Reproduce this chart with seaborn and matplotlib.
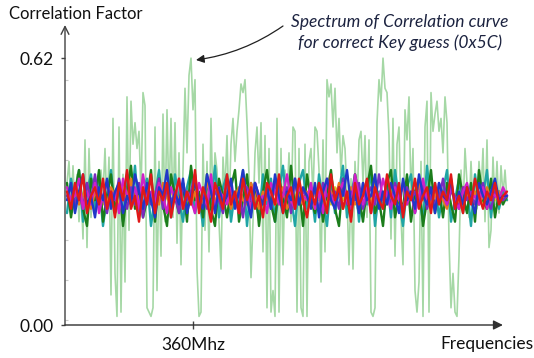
# %%
import numpy as np
import pandas as pd
import matplotlib
matplotlib.use("Agg")
import matplotlib.pyplot as plt
import seaborn as sns

#
# Data (correlation x 100, one value per frequency bin)
#
key_curve = [
    33, 38, 27, 37, 26, 35, 24, 32, 20, 43,
    18, 41, 25, 34, 28, 33, 27, 36, 30, 41,
    26, 39, 7, 48, 12, 2, 46, 3, 35, 10,
    53, 22, 52, 42, 47, 41, 45, 30, 54, 51,
    4, 3, 2, 4, 46, 8, 38, 16, 49, 24,
    50, 28, 48, 25, 47, 19, 40, 14, 36, 55,
    40, 58, 62, 50, 57, 13, 2, 3, 42, 22,
    38, 17, 48, 27, 40, 36, 24, 13, 39, 31,
    44, 26, 42, 48, 38, 45, 50, 56, 54, 57,
    47, 35, 11, 24, 40, 46, 33, 47, 17, 44,
    4, 41, 3, 8, 2, 48, 3, 41, 14, 36,
    28, 40, 24, 46, 45, 3, 41, 4, 2, 42,
    2, 38, 41, 30, 46, 45, 36, 10, 43, 17,
    57, 53, 56, 46, 55, 40, 48, 35, 44, 41,
    30, 14, 34, 13, 38, 27, 43, 45, 33, 44,
    25, 43, 3, 2, 4, 47, 57, 52, 62, 55,
    54, 44, 20, 48, 16, 42, 46, 25, 14, 50,
    43, 53, 30, 41, 8, 3, 10, 38, 2, 46,
    52, 3, 54, 45, 49, 52, 45, 48, 40, 53,
    47, 20, 4, 12, 3, 2, 16, 36, 26, 41,
    33, 25, 38, 28, 35, 27, 38, 30, 41, 24,
    43, 18, 22, 39, 28, 38, 26, 37, 30, 36,
    29,
]

# wrong key guesses, sampled every second bin
band_yellow = [
    30, 29, 31, 30, 28, 32, 29, 30, 31, 28, 29, 31, 30, 28, 32, 30, 29, 31, 28, 30,
    31, 29, 30, 32, 28, 30, 31, 29, 30, 28, 30, 31, 29, 28, 31, 30, 32, 29, 30, 31,
    29, 30, 28, 31, 30, 29, 32, 30, 28, 31, 30, 29, 31, 28, 30, 32, 29, 30, 31, 29,
    28, 31, 30, 29, 31, 30, 28, 32, 30, 29, 31, 29, 30, 28, 31, 30, 29, 31, 30, 28,
    30, 31, 29, 30, 32, 28, 30, 29, 31, 30, 29, 30, 31, 28, 30, 29, 31, 30, 28, 31,
    30, 29, 31, 30, 28, 30, 31, 29, 30, 30, 29,
]
band_orange = [
    31, 29, 32, 28, 30, 33, 27, 31, 29, 30, 28, 32, 30, 27, 31, 29, 34, 28, 30, 26,
    32, 29, 31, 28, 33, 30, 27, 31, 29, 32, 30, 28, 31, 27, 29, 33, 30, 28, 32, 29,
    31, 27, 30, 32, 29, 28, 33, 30, 27, 31, 29, 31, 28, 30, 32, 27, 29, 33, 30, 28,
    31, 29, 27, 32, 30, 28, 31, 29, 33, 27, 30, 32, 28, 29, 31, 30, 27, 33, 29, 31,
    28, 30, 32, 29, 27, 31, 30, 28, 33, 29, 31, 28, 30, 32, 29, 27, 31, 30, 28, 32,
    30, 29, 31, 28, 30, 32, 29, 30, 31, 29, 30,
]
band_teal = [
    26, 34, 29, 36, 24, 31, 35, 27, 33, 23, 30, 36, 26, 32, 24, 35, 28, 37, 25, 31,
    34, 23, 30, 36, 27, 33, 25, 35, 29, 24, 32, 36, 26, 30, 23, 34, 28, 37, 25, 32,
    35, 24, 31, 27, 36, 23, 33, 29, 25, 35, 28, 34, 24, 31, 37, 26, 30, 23, 33, 36,
    27, 32, 24, 35, 29, 23, 34, 26, 31, 37, 25, 30, 35, 24, 33, 28, 36, 23, 31, 27,
    34, 25, 36, 29, 23, 32, 35, 26, 30, 24, 37, 28, 33, 25, 31, 36, 24, 29, 34, 26,
    32, 23, 35, 28, 30, 36, 25, 33, 27, 31, 29,
]
band_green = [
    33, 25, 31, 36, 27, 23, 34, 29, 36, 24, 30, 35, 26, 33, 23, 31, 37, 27, 32, 25,
    29, 36, 24, 34, 28, 23, 35, 30, 26, 33, 24, 37, 29, 31, 25, 35, 27, 23, 34, 30,
    25, 32, 36, 24, 29, 35, 26, 33, 23, 31, 36, 28, 24, 34, 30, 25, 37, 27, 32, 23,
    35, 29, 26, 33, 24, 31, 36, 27, 23, 34, 29, 25, 35, 30, 24, 32, 37, 26, 29, 23,
    33, 36, 25, 30, 27, 35, 24, 31, 34, 23, 29, 36, 26, 32, 25, 33, 28, 24, 35, 30,
    26, 33, 24, 36, 29, 27, 34, 25, 31, 28, 30,
]
band_purple = [
    30, 32, 28, 31, 27, 33, 29, 35, 28, 30, 26, 31, 29, 34, 30, 27, 32, 28, 33, 25,
    31, 28, 30, 34, 27, 32, 29, 30, 26, 33, 29, 31, 35, 28, 30, 27, 33, 31, 29, 26,
    34, 30, 28, 31, 25, 32, 29, 33, 30, 28, 31, 27, 33, 29, 30, 32, 26, 34, 28, 31,
    30, 28, 32, 26, 33, 30, 29, 31, 27, 34, 28, 31, 29, 33, 27, 30, 32, 28, 35, 29,
    31, 28, 33, 30, 26, 32, 29, 31, 28, 33, 27, 30, 32, 29, 34, 28, 31, 30, 27, 32,
    29, 31, 28, 30, 33, 29, 27, 31, 30, 29, 30,
]
band_magenta = [
    32, 29, 30, 34, 27, 31, 28, 33, 26, 30, 33, 28, 31, 26, 34, 30, 29, 32, 27, 35,
    29, 31, 28, 33, 30, 26, 32, 29, 34, 27, 31, 29, 26, 33, 30, 28, 35, 27, 31, 30,
    28, 32, 29, 26, 34, 31, 27, 33, 29, 30, 26, 33, 31, 28, 30, 35, 29, 27, 32, 30,
    29, 33, 27, 31, 26, 34, 30, 28, 31, 33, 29, 27, 35, 30, 28, 32, 26, 31, 29, 34,
    30, 27, 32, 29, 33, 28, 31, 26, 30, 34, 29, 31, 27, 33, 30, 28, 32, 29, 27, 31,
    33, 29, 30, 28, 32, 27, 31, 30, 29, 32, 30,
]
band_blue = [
    29, 33, 26, 31, 35, 28, 30, 25, 32, 29, 34, 27, 31, 33, 26, 30, 28, 35, 31, 27,
    33, 29, 25, 32, 30, 36, 27, 31, 28, 34, 26, 30, 33, 29, 27, 35, 31, 26, 32, 28,
    30, 34, 27, 31, 36, 29, 25, 33, 30, 28, 32, 27, 35, 30, 26, 31, 29, 34, 28, 32,
    30, 27, 33, 25, 31, 34, 29, 27, 32, 30, 36, 28, 31, 26, 33, 29, 30, 35, 27, 31,
    28, 33, 30, 26, 34, 29, 31, 27, 35, 30, 28, 32, 26, 33, 30, 29, 34, 27, 31, 28,
    32, 29, 26, 33, 30, 28, 31, 34, 29, 30, 30,
]
band_red = [
    31, 27, 33, 29, 35, 26, 30, 32, 28, 34, 27, 31, 25, 33, 29, 36, 27, 30, 24, 32,
    28, 35, 26, 31, 29, 33, 25, 30, 34, 27, 31, 28, 36, 26, 32, 29, 24, 33, 30, 27,
    35, 28, 31, 26, 34, 29, 32, 27, 30, 25, 33, 31, 28, 35, 26, 30, 32, 27, 34, 29,
    25, 31, 28, 33, 30, 26, 35, 29, 32, 27, 31, 24, 33, 28, 30, 34, 26, 32, 29, 27,
    35, 30, 28, 33, 25, 31, 29, 34, 27, 30, 32, 26, 33, 28, 31, 29, 35, 27, 30, 26,
    32, 28, 34, 30, 27, 31, 29, 33, 28, 30, 31,
]

band_series = {
    "yellow": band_yellow, "teal": band_teal, "green": band_green,
    "orange": band_orange, "purple": band_purple, "magenta": band_magenta,
    "blue": band_blue, "red": band_red,
}
band_colors = ["#d8c82a", "#1fa5a5", "#1b7d1b", "#e8781e", "#7a2cc0",
               "#d020c8", "#2038c8", "#e01818"]

y_ticks = [0.0, 0.62]
y_tick_labels = ["0.00", "0.62"]
x_tick = 63
x_tick_label = "360Mhz"

key_df = pd.DataFrame({"freq": np.arange(len(key_curve)),
                       "corr": np.array(key_curve) / 100})
band_df = pd.concat(
    [pd.DataFrame({"freq": 2 * np.arange(len(v)), "corr": np.array(v) / 100, "key": k})
     for k, v in band_series.items()],
    ignore_index=True)

#
# Plot
#
sns.set_style("white")
plt.rcParams["font.family"] = ["Lato", "DejaVu Sans"]

fig = plt.figure(figsize=(5.34, 3.58), dpi=100)
ax = fig.add_axes([65 / 534, 33 / 358, 445 / 534, 300 / 358])

sns.lineplot(data=key_df, x="freq", y="corr", color="#5cb85c", alpha=0.55,
             linewidth=1.2, estimator=None, ax=ax)
sns.lineplot(data=band_df, x="freq", y="corr", hue="key", palette=band_colors,
             linewidth=1.7, estimator=None, legend=False, ax=ax)

ax.set_xlim(-1, 221.5)
ax.set_ylim(0, 0.697)
ax.set_xlabel("")
ax.set_ylabel("")
sns.despine(ax=ax, left=True, bottom=True)

ax.set_yticks(y_ticks, y_tick_labels)
ax.set_yticks([0.012, 0.105, 0.198, 0.383, 0.476, 0.569], minor=True)
ax.set_xticks([x_tick], [x_tick_label])
ax.tick_params(axis="y", which="major", direction="out", length=3, width=1,
               color="#404040", pad=5, labelsize=12.5, labelcolor="#111111",
               left=True)
ax.tick_params(axis="y", which="minor", direction="in", length=2, width=0.8,
               color="#c8c8c8", left=True)
ax.tick_params(axis="x", direction="inout", length=6, width=1, color="#404040",
               pad=6, labelsize=12.5, labelcolor="#111111", bottom=True)

# axis arrows
ax.annotate("", xy=(0, 1), xytext=(0, 0), xycoords="axes fraction",
            arrowprops=dict(arrowstyle="->", color="#404040", lw=1,
                            shrinkA=0, shrinkB=0, mutation_scale=14))
ax.annotate("", xy=(0.984, 0), xytext=(0, 0), xycoords="axes fraction",
            arrowprops=dict(arrowstyle="-|>", color="#303030", lw=1,
                            shrinkA=0, shrinkB=0, mutation_scale=14))

fig.text(9 / 534, 1 - 14 / 358, "Correlation Factor", ha="left", va="center",
         fontsize=12, color="#111111")
fig.text(533 / 534, 1 - 344 / 358, "Frequencies", ha="right", va="center",
         fontsize=12.5, color="#111111")

# annotation for the right key
fig.text(400 / 534, 1 - 22 / 358, "Spectrum of Correlation curve", ha="center",
         va="center", fontsize=12.5, style="italic", color="#1c2340")
fig.text(400 / 534, 1 - 43 / 358, "for correct Key guess (0x5C)", ha="center",
         va="center", fontsize=12.5, style="italic", color="#1c2340")
ax.annotate("", xy=(196, 298), xycoords="figure pixels",
            xytext=(283, 332), textcoords="figure pixels", annotation_clip=False,
            arrowprops=dict(arrowstyle="-|>", color="#202020", lw=0.9,
                            connectionstyle="arc3,rad=-0.12", shrinkA=0, shrinkB=0,
                            mutation_scale=12))

fig.savefig("out.png", dpi=100)
